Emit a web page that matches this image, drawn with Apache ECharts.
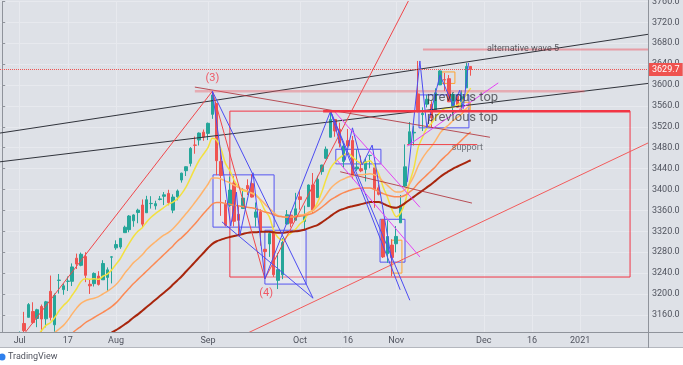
<!DOCTYPE html>
<html><head><meta charset="utf-8">
<script src="https://cdn.jsdelivr.net/npm/echarts@6/dist/echarts.min.js"></script>
<style>html,body{margin:0;padding:0;background:#fff}#c{width:683px;height:365px}</style>
</head><body><div id="c"></div>
<script>
// ---------- trading days (categories) ----------
const monthDays = [
  ['2020-06', [25,26,29,30]],
  ['2020-07', [1,2,6,7,8,9,10,13,14,15,16,17,20,21,22,23,24,27,28,29,30,31]],
  ['2020-08', [3,4,5,6,7,10,11,12,13,14,17,18,19,20,21,24,25,26,27,28,31]],
  ['2020-09', [1,2,3,4,8,9,10,11,14,15,16,17,18,21,22,23,24,25,28,29,30]],
  ['2020-10', [1,2,5,6,7,8,9,12,13,14,15,16,19,20,21,22,23,26,27,28,29,30]],
  ['2020-11', [2,3,4,5,6,9,10,11,12,13,16,17,18,19,20,23,24,25,27,30]],
  ['2020-12', [1,2,3,4,7,8,9,10,11,14,15,16,17,18,21,22,23,24,28,29,30,31]],
  ['2021-01', [4,5,6,7,8,11,12,13,14,15,19,20,21,22,25,26]]
];
const tickLabels = [['2020-07-01','Jul'],['2020-07-17','17'],['2020-08-03','Aug'],['2020-09-01','Sep'],
  ['2020-10-01','Oct'],['2020-10-16','16'],['2020-11-02','Nov'],['2020-12-01','Dec'],['2020-12-16','16'],['2021-01-04','2021']];

// ---------- OHLC (Jun 25 .. Nov 25 2020) ----------
const open = [3046.6,3073.2,3018.6,3050.2,3105.9,3143.6,3155.3,3166.4,3153.1,3176.2,
 3152.5,3205.1,3141.1,3226.0,3208.4,3224.2,3224.3,3268.5,3254.9,3271.6,
 3218.6,3219.8,3234.3,3227.2,3231.8,3270.5,3288.3,3289.9,3317.4,3323.2,
 3340.1,3356.0,3370.3,3355.5,3373.0,3368.7,3380.9,3387.0,3392.5,3360.5,
 3386.0,3418.1,3436.0,3450.0,3485.1,3494.7,3509.7,3507.4,3543.8,3564.7,
 3453.6,3371.9,3369.8,3412.6,3352.7,3363.6,3407.7,3411.2,3346.9,3357.4,
 3285.6,3295.8,3320.1,3226.1,3236.7,3333.9,3350.9,3341.2,3385.9,3338.9,
 3367.3,3408.7,3384.6,3434.3,3459.7,3500.0,3534.0,3515.5,3453.7,3493.5,
 3493.7,3439.4,3439.9,3438.5,3464.9,3441.4,3403.2,3342.5,3277.2,3293.6,
 3296.2,3336.3,3406.5,3485.7,3508.3,3583.0,3543.3,3563.2,3562.7,3552.6,
 3600.2,3610.3,3612.1,3559.4,3579.3,3566.8,3594.5,3635.5];
const high = [3086.3,3073.7,3053.9,3111.5,3128.4,3165.8,3182.6,3184.2,3171.8,3179.8,
 3186.8,3235.3,3201.0,3238.3,3220.4,3233.5,3258.6,3277.3,3279.3,3280.0,
 3227.3,3241.4,3243.7,3264.7,3250.9,3272.2,3302.7,3306.8,3330.8,3351.0,
 3352.5,3363.3,3381.0,3387.9,3387.2,3378.5,3387.6,3395.1,3399.5,3390.8,
 3400.0,3432.1,3444.2,3481.1,3501.4,3509.2,3514.8,3528.0,3588.1,3564.9,
 3479.2,3380.0,3424.8,3425.6,3369.0,3402.9,3419.5,3428.9,3375.2,3362.3,
 3285.6,3320.3,3323.4,3278.7,3306.9,3360.7,3357.9,3393.6,3397.2,3369.1,
 3409.6,3431.6,3426.3,3447.3,3482.3,3549.9,3534.0,3527.9,3489.1,3515.8,
 3502.4,3476.9,3464.9,3460.5,3466.5,3441.4,3409.5,3342.5,3341.1,3304.9,
 3330.1,3389.5,3486.3,3529.1,3521.6,3646.0,3557.2,3581.2,3569.0,3593.7,
 3628.5,3623.1,3619.1,3585.2,3581.2,3589.8,3642.3,3635.5];
const low = [3024.0,3004.6,2999.7,3047.8,3101.2,3124.5,3155.3,3142.9,3136.5,3115.7,
 3136.2,3149.4,3127.7,3200.8,3198.6,3205.7,3215.2,3247.8,3253.1,3222.7,
 3200.1,3214.3,3216.2,3227.2,3204.1,3220.3,3284.5,3286.4,3317.4,3318.1,
 3328.7,3335.4,3326.4,3355.5,3363.4,3361.6,3379.2,3370.2,3369.7,3354.7,
 3379.3,3413.1,3425.8,3444.2,3468.4,3484.3,3493.3,3494.6,3535.2,3427.4,
 3349.6,3329.3,3366.8,3329.3,3310.5,3363.6,3389.3,3384.5,3328.8,3292.4,
 3229.1,3271.0,3232.6,3209.5,3228.4,3332.9,3327.5,3340.5,3361.4,3323.7,
 3367.3,3354.5,3384.6,3428.2,3458.1,3499.6,3500.9,3480.6,3440.9,3480.5,
 3419.9,3435.7,3433.1,3415.3,3440.5,3364.9,3388.7,3268.9,3259.8,3233.9,
 3279.7,3336.3,3405.2,3485.7,3484.3,3547.5,3511.9,3557.0,3518.6,3552.6,
 3600.2,3588.7,3567.3,3543.8,3556.9,3552.8,3594.5,3617.8];
const close = [3083.8,3009.1,3053.2,3100.3,3115.9,3130.0,3179.7,3145.3,3169.9,3152.1,
 3185.0,3155.2,3197.5,3226.6,3215.6,3224.7,3251.8,3257.3,3276.0,3235.7,
 3215.6,3239.4,3218.4,3258.4,3246.2,3271.1,3294.6,3306.5,3327.8,3349.2,
 3351.3,3360.5,3333.7,3380.4,3373.4,3372.9,3382.0,3389.8,3374.9,3385.5,
 3397.2,3431.3,3443.6,3478.7,3484.6,3508.0,3500.3,3526.7,3580.8,3455.1,
 3427.0,3331.8,3399.0,3339.2,3341.0,3383.5,3401.2,3385.5,3357.0,3319.5,
 3281.1,3315.6,3236.9,3246.6,3298.5,3351.6,3335.5,3363.0,3380.8,3348.4,
 3408.6,3361.0,3419.4,3446.8,3477.1,3534.2,3511.9,3488.7,3483.3,3483.8,
 3426.9,3443.1,3435.6,3453.5,3465.4,3401.0,3390.7,3271.0,3310.1,3270.0,
 3310.2,3369.2,3443.4,3510.5,3509.4,3550.5,3545.5,3572.7,3537.0,3585.2,
 3626.9,3609.5,3567.8,3581.9,3557.5,3577.6,3635.4,3629.65];

// ---------- moving averages ----------
const maYellow = [3040,3045,3050,3062,3073,3085,3100,3108,3118,3130,
 3140,3145,3155,3168,3178,3186,3198,3210,3224,3229,
 3228,3229,3228,3234,3238,3246,3257,3268,3283,3297,
 3310,3320,3327,3338,3347,3354,3360,3366,3372,3376,
 3382,3392,3405,3422,3440,3456,3468,3480,3498,3494,
 3477,3450,3436,3417,3405,3398,3396,3393,3390,3378,
 3360,3348,3322,3308,3303,3310,3317,3324,3334,3341,
 3356,3360,3375,3395,3420,3441,3452,3460,3466,3470,
 3462,3455,3450,3452,3455,3445,3430,3405,3385,3362,
 3348,3355,3375,3412,3440,3480,3500,3518,3526,3538,
 3548,3555,3556,3558,3562,3568,3582,3594];
const maLightOrange = [3030,3035,3040,3048,3056,3065,3075,3083,3092,3100,
 3110,3118,3126,3133,3140,3150,3162,3173,3182,3187,
 3190,3192,3195,3200,3205,3211,3218,3228,3240,3250,
 3260,3267,3275,3285,3293,3300,3307,3313,3318,3325,
 3334,3344,3354,3364,3375,3386,3398,3410,3422,3422,
 3420,3416,3413,3408,3404,3400,3397,3393,3388,3381,
 3372,3364,3356,3350,3348,3347,3347,3349,3351,3352,
 3356,3360,3368,3378,3390,3402,3410,3416,3420,3424,
 3426,3428,3428,3429,3430,3428,3424,3415,3408,3400,
 3395,3395,3400,3410,3425,3445,3460,3472,3482,3494,
 3508,3517,3524,3532,3538,3545,3555,3562];
const maOrange = [3010,3015,3020,3026,3032,3040,3048,3055,3062,3069,
 3077,3084,3092,3100,3108,3116,3125,3132,3138,3145,
 3150,3155,3160,3165,3170,3176,3183,3192,3202,3211,
 3220,3228,3236,3244,3252,3260,3268,3276,3284,3292,
 3301,3308,3316,3325,3334,3344,3354,3363,3372,3375,
 3375,3373,3372,3370,3369,3367,3366,3365,3363,3360,
 3357,3355,3352,3349,3348,3347,3347,3348,3349,3350,
 3352,3355,3360,3366,3373,3380,3385,3390,3394,3397,
 3400,3402,3403,3403,3403,3400,3396,3392,3389,3387,
 3386,3386,3389,3395,3402,3412,3420,3428,3436,3444,
 3454,3462,3470,3479,3487,3495,3503,3510];
const maDarkRed = [2990,2996,3002,3008,3014,3020,3026,3032,3038,3044,
 3050,3055,3060,3065,3070,3075,3080,3085,3090,3095,
 3100,3105,3110,3115,3120,3126,3131,3136,3142,3148,
 3155,3161,3168,3175,3182,3189,3196,3203,3210,3218,
 3226,3234,3243,3252,3261,3270,3279,3288,3296,3301,
 3304,3307,3309,3311,3313,3315,3317,3318,3318,3319,
 3319,3319,3318,3317,3317,3318,3319,3320,3321,3323,
 3326,3329,3332,3337,3343,3349,3355,3360,3363,3366,
 3368,3370,3372,3374,3376,3376,3376,3373,3369,3366,
 3365,3368,3374,3380,3386,3392,3398,3404,3410,3417,
 3424,3430,3435,3440,3444,3448,3452,3456];

// ---------- drawings, in [bar index, price] ----------
const channelUpper = [[-0.5,3508],[147.5,3697]];
const channelLower = [[-0.5,3453],[147.5,3603]];
const redRise1 = [[4.3,3116],[48,3588]];
const redDrop34 = [[48,3588],[60,3229]];
const redRise4 = [[60,3229],[95,3797]];
const redLower = [[55,3121],[147.5,3489]];
const brownFrom3 = [[44,3596],[111.4,3500]];
const brownOct = [[77.2,3434],[107.3,3374]];
const wave3Level = [[44,3588],[133,3588]];
const altWave5Level = [[96.1,3668],[147.5,3668]];
const octHighLevel = [[73.3,3550],[143.4,3550]];
const supportLevel = [[92.5,3486],[108.5,3486]];
const blueLong1 = [[48,3588],[71,3192]];
const blueLong2 = [[50.2,3338],[71,3192]];
const blueZigSep = [[48,3588],[52.2,3330],[53.5,3395],[54.3,3313],[57.3,3432],[60,3229],[75,3550]];
const blueOct1 = [[75,3550],[90.9,3208]];
const blueOct2 = [[75,3550],[93.1,3188]];
const blueZigOct = [[75,3550],[78.3,3456],[80,3518],[82.2,3447],[84.5,3485],[89,3262]];
const blueZigNov = [[92.5,3414],[95.4,3646],[97,3518],[100,3619],[103,3560],[104.5,3590],[105.3,3555],[106.5,3642]];
const pinkOct1 = [[75.6,3552],[95.4,3366]];
const pinkOct2 = [[76.5,3456],[95.4,3271]];
const pinkNov = [[92.5,3483],[113.3,3604]];
const bigRedBox = [[52,3550],[143.4,3232.5]];
const blueBoxes = [
  [[48.15,3428],[62.1,3328]],
  [[60,3322],[69.4,3219]],
  [[76.2,3477],[86.5,3449]],
  [[86.3,3343],[92,3261]],
  [[95.2,3581],[106.6,3518]]
];
const orangeBoxes = [
  [[100.4,3625],[103.4,3603]],
  [[104.6,3567],[106.9,3552]],
  [[89.0,3303],[91.3,3240]]
];
const notes = [
  ['(3)', [48,3612]],
  ['(4)', [60.3,3201]],
  ['previous top', [97,3576]],
  ['previous top', [97,3537]],
  ['support', [102.7,3479]],
  ['alternative wave 5', [110.7,3670]]
];

// ---------- build ----------
const dates = [];
monthDays.forEach(([m, ds]) => ds.forEach(d => dates.push(m + '-' + String(d).padStart(2,'0'))));
const labelMap = {}; tickLabels.forEach(([d,t]) => labelMap[d] = t);
const isLabel = (i, v) => Object.prototype.hasOwnProperty.call(labelMap, v);
const candles = open.map((o,i) => [o, close[i], low[i], high[i]]);
const lastClose = close[close.length-1];

const FONT = 'Roboto, "Liberation Sans", sans-serif';
const BG = '#dee1e7', GRIDC = '#e7e9ee';

const series = [];
series.push({
  type:'candlestick', xAxisIndex:0, yAxisIndex:0, data:candles, barWidth:3, z:2,
  itemStyle:{color:'#26a69a', color0:'#ef5350', borderColor:'#26a69a', borderColor0:'#ef5350', borderWidth:1},
  markLine:{symbol:'none', silent:true, animation:false,
    data:[{yAxis:lastClose}],
    lineStyle:{color:'#ef5350', type:'dotted', width:1},
    label:{position:'end', distance:1, formatter:lastClose.toFixed(1), backgroundColor:'#ef5350',
      color:'#fff', fontSize:9, fontFamily:FONT, padding:[2,3,2,3]}}
});
[[maYellow,'#f3e03f',1.5],[maLightOrange,'#ffb36b',1.5],[maOrange,'#fb8a55',1.5],[maDarkRed,'#a8260d',2]]
 .forEach(([d,c,w]) => series.push({type:'line', xAxisIndex:0, yAxisIndex:0, data:d, symbol:'none',
   smooth:0.3, lineStyle:{color:c, width:w}, z:3, silent:true, clip:true}));

function draw(pts, color, width, type, extra) {
  series.push(Object.assign({type:'line', xAxisIndex:1, yAxisIndex:0, data:pts, symbol:'none',
    lineStyle:{color, width, type:type||'solid'}, z:4, silent:true, clip:true}, extra||{}));
}
draw(channelUpper, '#30333b', 1);
draw(channelLower, '#30333b', 1);
draw(redRise1, '#f0464a', 1);
draw(redDrop34, '#f0464a', 1);
draw(redRise4, '#f0464a', 1);
draw(redLower, '#f25b5b', 1);
draw(brownFrom3, 'rgba(176,52,60,0.85)', 1);
draw(brownOct, 'rgba(176,52,60,0.85)', 1);
draw(wave3Level, 'rgba(240,90,100,0.4)', 2.5);
draw(altWave5Level, 'rgba(240,90,100,0.5)', 2);
draw(supportLevel, '#f0464a', 1);
draw(blueLong1, '#4c4cf2', 1);
draw(blueLong2, '#4c4cf2', 1);
draw(blueZigSep, '#4c4cf2', 1);
draw(blueOct1, '#4c4cf2', 1);
draw(blueOct2, '#4c4cf2', 1);
draw(blueZigOct, '#4c4cf2', 1);
draw(blueZigNov, '#4c4cf2', 1);
draw(pinkOct1, '#e542f5', 1);
draw(pinkOct2, '#e542f5', 1);
draw(pinkNov, '#e542f5', 1);

const areas = [];
areas.push([{coord:bigRedBox[0], itemStyle:{color:'rgba(0,0,0,0)', borderColor:'#f23645', borderWidth:1}}, {coord:bigRedBox[1]}]);
blueBoxes.forEach(b => areas.push([{coord:b[0], itemStyle:{color:'rgba(245,245,255,0.3)', borderColor:'#5555f0', borderWidth:1}}, {coord:b[1]}]));
orangeBoxes.forEach(b => areas.push([{coord:b[0], itemStyle:{color:'rgba(0,0,0,0)', borderColor:'#ffa32e', borderWidth:1}}, {coord:b[1]}]));
draw(octHighLevel, '#f23645', 2.5, 'solid', {markArea:{silent:true, data:areas, label:{show:false}}});

const noteStyle = {
  '(3)': {color:'#f23645', fontSize:11, position:'inside'},
  '(4)': {color:'#f23645', fontSize:11, position:'inside'},
  'previous top': {color:'rgba(40,40,44,0.85)', fontSize:13, position:'right'},
  'support': {color:'#555860', fontSize:9, position:'right'},
  'alternative wave 5': {color:'#34363c', fontSize:9, position:'right'}
};
series.push({type:'scatter', xAxisIndex:1, yAxisIndex:0, symbolSize:0, z:5, silent:true,
  data: notes.map(([t,p]) => ({value:p, label:Object.assign({show:true, formatter:t, distance:0, fontFamily:FONT}, noteStyle[t])}))});

const option = {
  animation:false,
  backgroundColor: BG,
  textStyle:{fontFamily:FONT},
  grid:{left:0, right:35, top:1.4, height:334.4, containLabel:false, outerBoundsMode:'none'},
  xAxis:[
    {type:'category', data:dates, boundaryGap:true, gridIndex:0, position:'bottom',
      axisLine:{show:false}, axisTick:{show:false}, axisLabel:{show:false},
      splitLine:{show:true, alignWithLabel:true, interval:isLabel, lineStyle:{color:GRIDC, width:1}}},
    {type:'value', min:-0.5, max:147.5, show:false, gridIndex:0, position:'top'},
    {type:'category', data:dates, boundaryGap:true, gridIndex:0, z:20, position:'bottom', offset:0,
      axisLine:{show:false}, axisTick:{show:false}, splitLine:{show:false},
      axisLabel:{show:true, interval:isLabel, formatter:v => labelMap[v] || '', color:'#50535e',
        fontSize:9, margin:0, fontFamily:FONT}}
  ],
  yAxis:[{type:'value', position:'right', min:3120, max:3760, interval:40,
    axisLine:{show:true, lineStyle:{color:'#8f939b'}},
    axisTick:{show:true, length:3, lineStyle:{color:'#8f939b'}},
    axisLabel:{formatter:v => v.toFixed(1), color:'#50535e', fontSize:9, margin:4, fontFamily:FONT, showMinLabel:false},
    splitLine:{show:true, lineStyle:{color:GRIDC, width:1}}}],
  series,
  graphic:[
    {type:'rect', shape:{x:0, y:332, width:683, height:16}, style:{fill:BG}, z:10},
    {type:'rect', shape:{x:0, y:348, width:683, height:17}, style:{fill:'#ffffff'}, z:10},
    {type:'line', shape:{x1:0, y1:332.5, x2:683, y2:332.5}, style:{stroke:'#8f939b', lineWidth:1}, z:11},
    {type:'line', shape:{x1:0, y1:347.5, x2:683, y2:347.5}, style:{stroke:'#b4b7be', lineWidth:1}, z:11},
    {type:'line', shape:{x1:648.5, y1:0, x2:648.5, y2:348}, style:{stroke:'#8f939b', lineWidth:1}, z:11},
    {type:'circle', shape:{cx:2, cy:357, r:3.5}, style:{fill:'#2f80ed'}, z:11},
    {type:'text', x:8, y:352, style:{text:'TradingView', fill:'#50535e', fontSize:9, fontFamily:FONT}, z:11}
  ]
};
const chart = echarts.init(document.getElementById('c'));
chart.setOption(option);
</script></body></html>
